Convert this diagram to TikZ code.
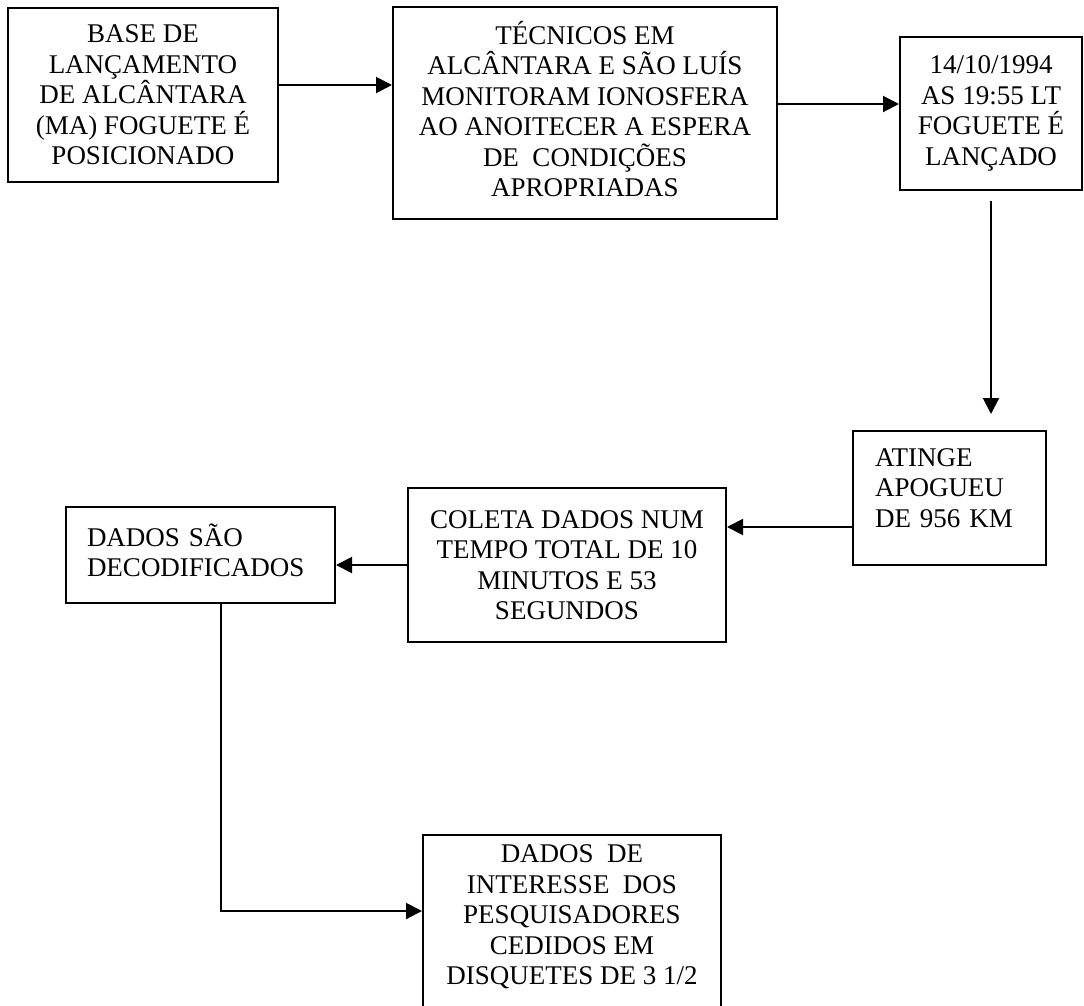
\documentclass[tikz,border=0pt]{standalone}
\usepackage{fontspec}
\setmainfont{Liberation Serif}
\usetikzlibrary{arrows.meta}

\begin{document}
\begin{tikzpicture}[x=1pt,y=1pt,
        box/.style={draw, line width=2pt, align=center, inner sep=4pt,
                font=\fontsize{27}{30.5}\selectfont},
        flow/.style={line width=2pt, -{Triangle[length=16pt,width=16pt]}}]
        \useasboundingbox (0,0) rectangle (1084,-1005);
        \node[box, minimum width=270, minimum height=174] (base) at (143,-95)
                {BASE DE\\LANÇAMENTO\\DE ALCÂNTARA\\(MA) FOGUETE É\\POSICIONADO};
        \node[box, minimum width=384, minimum height=212, text depth=8pt] (tecnicos) at (585,-113)
                {TÉCNICOS EM\\ALCÂNTARA E SÃO LUÍS\\MONITORAM IONOSFERA\\AO ANOITECER A ESPERA\\DE \ CONDIÇÕES\\APROPRIADAS};
        \node[box, minimum width=182, minimum height=153] (lancado) at (991,-113.5)
                {14/10/1994\\AS 19:55 LT\\FOGUETE É\\LANÇADO};
        \node[box, align=left, inner xsep=22pt, text width=149, minimum height=134, text depth=81pt] (apogeu) at (949.5,-498)
                {ATINGE\\APOGUEU\\DE 956 KM};
        \node[box, minimum width=318, minimum height=154] (coleta) at (567,-565)
                {COLETA DADOS NUM\\TEMPO TOTAL DE 10\\MINUTOS E 53\\SEGUNDOS};
        \node[box, align=left, inner xsep=21pt, text width=227, minimum height=96, text depth=40pt] (decod) at (200.5,-555)
                {DADOS SÃO\\DECODIFICADOS};
        \node[box, anchor=north, minimum width=298, inner ysep=10pt, text depth=60pt] (disquetes) at (572,-834)
                {DADOS \ DE\\INTERESSE \ DOS\\PESQUISADORES\\CEDIDOS EM\\DISQUETES DE 3 1/2};
        \draw[flow] ([yshift=10pt]base.east) -- ([yshift=10pt]base.east -| tecnicos.west);
        \draw[flow] ([yshift=9pt]tecnicos.east) -- ([yshift=9pt]tecnicos.east -| lancado.west);
        \draw[flow, shorten <=10pt, shorten >=16pt] (lancado.south) -- (lancado.south |- apogeu.north);
        \draw[flow] ([yshift=-29pt]apogeu.west) -- ([yshift=-29pt]apogeu.west -| coleta.east);
        \draw[flow] (coleta.west) -- (coleta.west -| decod.east);
        \draw[flow] ([xshift=20pt]decod.south) |- ([yshift=-77pt]disquetes.north west);
\end{tikzpicture}
\end{document}
